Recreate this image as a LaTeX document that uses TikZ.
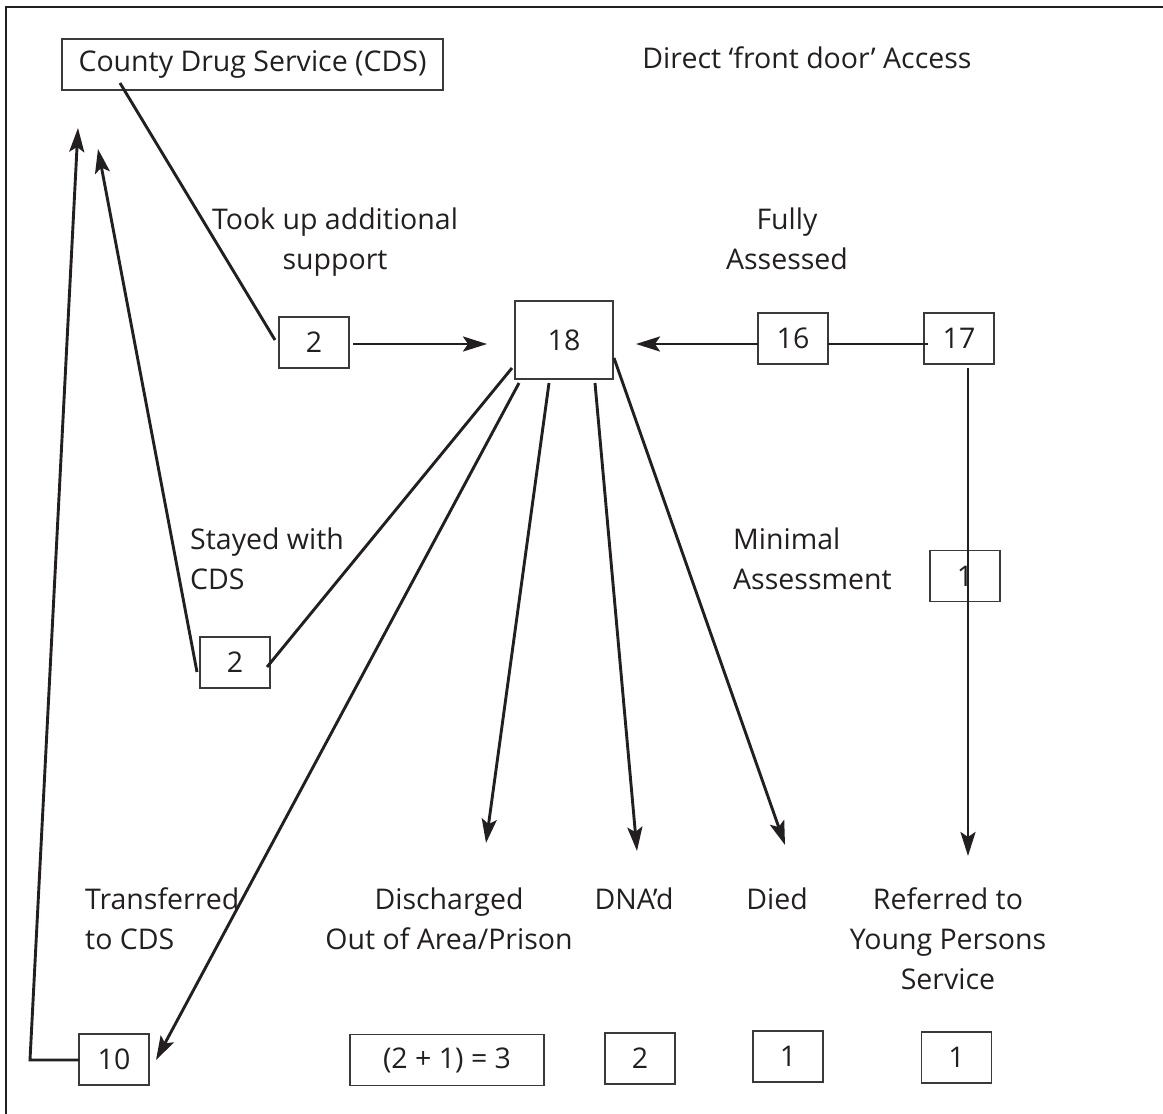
\documentclass[tikz,border=0pt]{standalone}
\usepackage{fontspec}
\setmainfont{Open Sans}
\usetikzlibrary{arrows.meta}
\definecolor{ink}{HTML}{231F20}
\definecolor{boxline}{HTML}{3A3A3A}
\tikzset{
  lbl/.style={font=\fontsize{28.5}{40}\selectfont, text=ink, inner sep=0pt},
  numbox/.style={lbl, draw=boxline, line width=1.6pt, minimum width=70pt, minimum height=51pt},
  conn/.style={draw=ink, line width=2.9pt},
  flow/.style={conn, -{Stealth[length=24pt, width=15pt, inset=5pt]}},
}
\begin{document}
\begin{tikzpicture}[x=1pt, y=-1pt]
  \useasboundingbox (0,0) rectangle (1163,1114);
  \clip (0,0) rectangle (1163,1114);
  % outer frame (only the top and left edges fall on the page)
  \draw[draw=ink, line width=2.8pt] (6,1200) -- (6,7) -- (1200,7);

  % boxes
  \node[numbox, minimum width=381pt] (cds) at (252.5,64.5) {County Drug Service (CDS)};
  \node[numbox] (took) at (314,342.5) {2};
  \node[numbox, minimum width=98pt, minimum height=78pt] (hub) at (564,340) {18};
  \node[numbox] (full) at (793,338.5) {16};
  \node[numbox] (front) at (959,338.5) {17};
  \node[numbox] (stay) at (235,662.5) {2};
  \node[numbox] (minimal) at (965,576) {1};
  \node[numbox] (transf) at (114,1059.5) {10};
  \node[numbox, minimum width=194pt] (disch) at (447,1060) {(2 + 1) = 3};
  \node[numbox] (dna) at (640,1058.5) {2};
  \node[numbox] (died) at (788,1056.5) {1};
  \node[numbox] (young) at (956.5,1057.5) {1};

  % labels (base anchor of a multi-line label sits on its last line)
  \node[lbl, anchor=base] (direct) at (807,68) {Direct ‘front door’ Access};
  \node[lbl, anchor=base, align=center] (tooklbl) at (335,269) {Took up additional\\support};
  \node[lbl, anchor=base, align=center] (fulllbl) at (787,269) {Fully\\Assessed};
  \node[lbl, anchor=base west, align=left] (staylbl) at (190,589) {Stayed with\\CDS};
  \node[lbl, anchor=base west, align=left] (minlbl) at (733,589) {Minimal\\Assessment};
  \node[lbl, anchor=base west, align=left] (translbl) at (85,949) {Transferred\\to CDS};
  \node[lbl, anchor=base, align=center] (dischlbl) at (449,949) {Discharged\\Out of Area/Prison};
  \node[lbl, anchor=base] (dnalbl) at (634,909) {DNA’d};
  \node[lbl, anchor=base] (diedlbl) at (777,909) {Died};
  \node[lbl, anchor=base, align=center] (younglbl) at (948,989) {Referred to\\Young Persons\\Service};

  % connector end points
  \coordinate (cdsOut) at (120,83);
  \coordinate (tookIn) at (275,340);
  \coordinate (tookOut) at (353,344);
  \coordinate (hubInL) at (487,344);
  \coordinate (hubInR) at (636,344);
  \coordinate (fullOut) at (758,344);
  \coordinate (fullR) at (828,344);
  \coordinate (frontL) at (928,344);
  \coordinate (frontDown) at (968,368);
  \coordinate (youngTip) at (968,856);
  \coordinate (hubToStay) at (512,368);
  \coordinate (stayIn) at (267,667);
  \coordinate (stayOut) at (197,672);
  \coordinate (cdsTipA) at (98,149);
  \coordinate (hubToTransf) at (519,383);
  \coordinate (transfTip) at (156,1060);
  \coordinate (transfOut) at (79,1060);
  \coordinate (transfCorner) at (30,1060);
  \coordinate (cdsTipB) at (78,128);
  \coordinate (hubToDisch) at (549,383);
  \coordinate (dischTip) at (486,843);
  \coordinate (hubToDna) at (595,383);
  \coordinate (dnaTip) at (637,851);
  \coordinate (hubToDied) at (614,358);
  \coordinate (diedTip) at (785,845);

  % connectors
  \draw[conn] (cdsOut) -- (tookIn);
  \draw[flow] (tookOut) -- (hubInL);
  \draw[flow] (fullOut) -- (hubInR);
  \draw[conn] (fullR) -- (frontL);
  \draw[flow] (frontDown) -- (youngTip);
  \draw[conn] (hubToStay) -- (stayIn);
  \draw[flow] (stayOut) -- (cdsTipA);
  \draw[flow] (hubToTransf) -- (transfTip);
  \draw[flow] (transfOut) -- (transfCorner) -- (cdsTipB);
  \draw[flow] (hubToDisch) -- (dischTip);
  \draw[flow] (hubToDna) -- (dnaTip);
  \draw[flow] (hubToDied) -- (diedTip);
\end{tikzpicture}
\end{document}
